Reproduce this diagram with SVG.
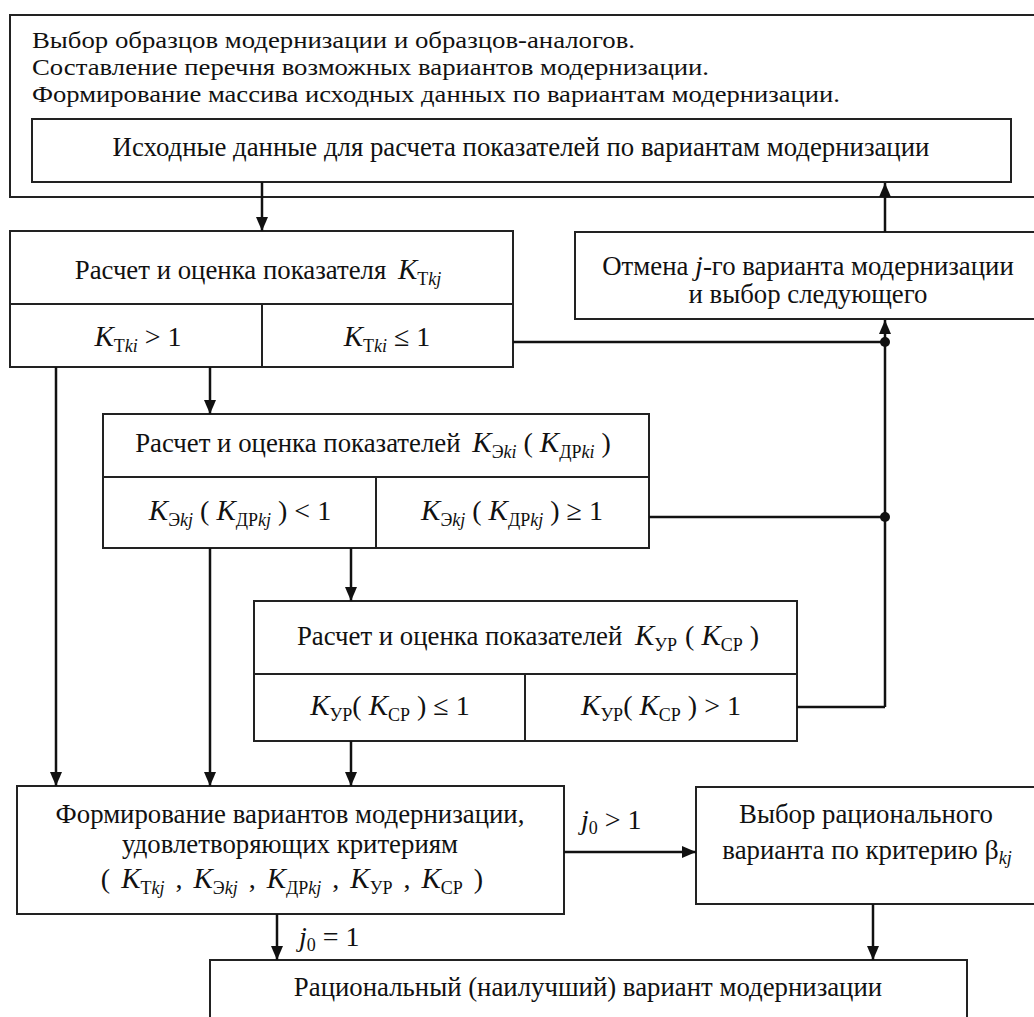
<svg xmlns="http://www.w3.org/2000/svg" width="1034" height="1017" viewBox="0 0 1034 1017">
<style>
text{font-family:"Liberation Serif","Times New Roman",serif;font-size:26.8px;fill:#111}
.top{font-size:24px}
.c{text-anchor:middle}
.i{font-style:italic}
.m{font-size:29px}
.s{font-size:18px}
.o{font-size:28px}
.box{fill:#fff;stroke:#222;stroke-width:2}
.ln{fill:none;stroke:#111;stroke-width:2.5}
</style>
<defs>
<marker id="ah" markerUnits="userSpaceOnUse" markerWidth="14" markerHeight="14" refX="14" refY="6" orient="auto">
<path d="M0,0 L14,6 L0,12 z" fill="#111"/>
</marker>
</defs>
<rect width="1034" height="1017" fill="#fff"/>

<g id="outer">
<rect class="box" x="10" y="15" width="1040" height="182"/>
<text class="top" x="32" y="48" textLength="603" lengthAdjust="spacingAndGlyphs">Выбор образцов модернизации и образцов-аналогов.</text>
<text class="top" x="32" y="75" textLength="677" lengthAdjust="spacingAndGlyphs">Составление перечня возможных вариантов модернизации.</text>
<text class="top" x="32" y="102" textLength="808" lengthAdjust="spacingAndGlyphs">Формирование массива исходных данных по вариантам модернизации.</text>
</g>

<g id="input">
<rect class="box" x="32" y="119" width="979" height="63"/>
<text class="c" x="521" y="156">Исходные данные для расчета показателей по вариантам модернизации</text>
</g>

<g id="kt">
<rect class="box" x="10" y="231" width="503" height="136"/>
<line class="box" x1="10" y1="304" x2="513" y2="304"/>
<line class="box" x1="262" y1="304" x2="262" y2="367"/>
<text class="c" x="258" y="279">Расчет и оценка показателя <tspan class="i m" dx="5">K</tspan><tspan class="s" dy="6">Т</tspan><tspan class="s i">kj</tspan></text>
<text class="c" x="138" y="346"><tspan class="i m">K</tspan><tspan class="s" dy="6">Т</tspan><tspan class="s i">ki</tspan><tspan class="o" dy="-6"> &gt; 1</tspan></text>
<text class="c" x="387" y="346"><tspan class="i m">K</tspan><tspan class="s" dy="6">Т</tspan><tspan class="s i">ki</tspan><tspan class="o" dy="-6"> ≤ 1</tspan></text>
</g>

<g id="cancel">
<rect class="box" x="575" y="232" width="470" height="87"/>
<text class="c" x="808" y="275">Отмена <tspan class="i o">j</tspan>-го варианта модернизации</text>
<text class="c" x="808" y="303">и выбор следующего</text>
</g>

<g id="ke">
<rect class="box" x="103" y="414" width="546" height="134"/>
<line class="box" x1="103" y1="477" x2="649" y2="477"/>
<line class="box" x1="376" y1="477" x2="376" y2="548"/>
<text class="c" x="373" y="452">Расчет и оценка показателей <tspan class="i m" dx="5">K</tspan><tspan class="s" dy="6">Э</tspan><tspan class="s i">ki</tspan><tspan class="o" dy="-6"> ( </tspan><tspan class="i m">K</tspan><tspan class="s" dy="6">ДР</tspan><tspan class="s i">ki</tspan><tspan class="o" dy="-6"> )</tspan></text>
<text class="c" x="240" y="520"><tspan class="i m">K</tspan><tspan class="s" dy="6">Э</tspan><tspan class="s i">kj</tspan><tspan class="o" dy="-6"> ( </tspan><tspan class="i m">K</tspan><tspan class="s" dy="6">ДР</tspan><tspan class="s i">kj</tspan><tspan class="o" dy="-6"> ) &lt; 1</tspan></text>
<text class="c" x="512" y="520"><tspan class="i m">K</tspan><tspan class="s" dy="6">Э</tspan><tspan class="s i">kj</tspan><tspan class="o" dy="-6"> ( </tspan><tspan class="i m">K</tspan><tspan class="s" dy="6">ДР</tspan><tspan class="s i">kj</tspan><tspan class="o" dy="-6"> ) ≥ 1</tspan></text>
</g>

<g id="kur">
<rect class="box" x="254" y="601" width="543" height="140"/>
<line class="box" x1="254" y1="674" x2="797" y2="674"/>
<line class="box" x1="525" y1="674" x2="525" y2="741"/>
<text class="c" x="528" y="645">Расчет и оценка показателей <tspan class="i m" dx="6">K</tspan><tspan class="s" dy="6">УР</tspan><tspan class="o" dy="-6" dx="8">( </tspan><tspan class="i m">K</tspan><tspan class="s" dy="6">СР</tspan><tspan class="o" dy="-6"> )</tspan></text>
<text class="c" x="390" y="715"><tspan class="i m">K</tspan><tspan class="s" dy="6">УР</tspan><tspan class="o" dy="-6">( </tspan><tspan class="i m">K</tspan><tspan class="s" dy="6">СР</tspan><tspan class="o" dy="-6"> ) ≤ 1</tspan></text>
<text class="c" x="661" y="715"><tspan class="i m">K</tspan><tspan class="s" dy="6">УР</tspan><tspan class="o" dy="-6">( </tspan><tspan class="i m">K</tspan><tspan class="s" dy="6">СР</tspan><tspan class="o" dy="-6"> ) &gt; 1</tspan></text>
</g>

<g id="form">
<rect class="box" x="17" y="786" width="547" height="128"/>
<text class="c" x="290" y="823">Формирование вариантов модернизации,</text>
<text class="c" x="290" y="853">удовлетворяющих критериям</text>
<text class="c" x="292" y="888"><tspan class="o">( </tspan><tspan class="i m" dx="4">K</tspan><tspan class="s" dy="6">Т</tspan><tspan class="s i">kj</tspan><tspan class="o" dy="-6" dx="4"> , </tspan><tspan class="i m" dx="4">K</tspan><tspan class="s" dy="6">Э</tspan><tspan class="s i">kj</tspan><tspan class="o" dy="-6" dx="4"> , </tspan><tspan class="i m" dx="4">K</tspan><tspan class="s" dy="6">ДР</tspan><tspan class="s i">kj</tspan><tspan class="o" dy="-6" dx="4"> , </tspan><tspan class="i m" dx="4">K</tspan><tspan class="s" dy="6">УР</tspan><tspan class="o" dy="-6" dx="4"> , </tspan><tspan class="i m" dx="4">K</tspan><tspan class="s" dy="6">СР</tspan><tspan class="o" dy="-6" dx="4"> )</tspan></text>
</g>

<g id="choice">
<rect class="box" x="696" y="787" width="350" height="117"/>
<text class="c" x="866" y="823">Выбор рационального</text>
<text class="c" x="867" y="859">варианта по критерию <tspan class="o">β</tspan><tspan class="s i" dy="5">kj</tspan></text>
</g>

<g id="result">
<rect class="box" x="210" y="960" width="757" height="80"/>
<text class="c" x="588" y="996">Рациональный (наилучший) вариант модернизации</text>
</g>

<g id="connectors">
<line class="ln" x1="262" y1="182" x2="262" y2="231" marker-end="url(#ah)"/>
<line class="ln" x1="885" y1="232" x2="885" y2="183" marker-end="url(#ah)"/>
<line class="ln" x1="885" y1="707" x2="885" y2="320" marker-end="url(#ah)"/>
<polyline class="ln" points="797,707 885,707"/>
<line class="ln" x1="513" y1="342" x2="885" y2="342"/>
<line class="ln" x1="649" y1="517" x2="885" y2="517"/>
<circle cx="885" cy="342" r="5" fill="#111"/>
<circle cx="885" cy="517" r="5" fill="#111"/>
<line class="ln" x1="56" y1="367" x2="56" y2="786" marker-end="url(#ah)"/>
<line class="ln" x1="210" y1="367" x2="210" y2="414" marker-end="url(#ah)"/>
<line class="ln" x1="210" y1="548" x2="210" y2="786" marker-end="url(#ah)"/>
<line class="ln" x1="351" y1="548" x2="351" y2="601" marker-end="url(#ah)"/>
<line class="ln" x1="351" y1="741" x2="351" y2="786" marker-end="url(#ah)"/>
<line class="ln" x1="564" y1="852" x2="696" y2="852" marker-end="url(#ah)"/>
<line class="ln" x1="873" y1="904" x2="873" y2="960" marker-end="url(#ah)"/>
<line class="ln" x1="277" y1="914" x2="277" y2="960" marker-end="url(#ah)"/>
<text x="581" y="829" class="o"><tspan class="i">j</tspan><tspan class="s" dy="5">0</tspan><tspan dy="-5"> &gt; 1</tspan></text>
<text x="299" y="946" class="o"><tspan class="i">j</tspan><tspan class="s" dy="5">0</tspan><tspan dy="-5"> = 1</tspan></text>
</g>
</svg>
